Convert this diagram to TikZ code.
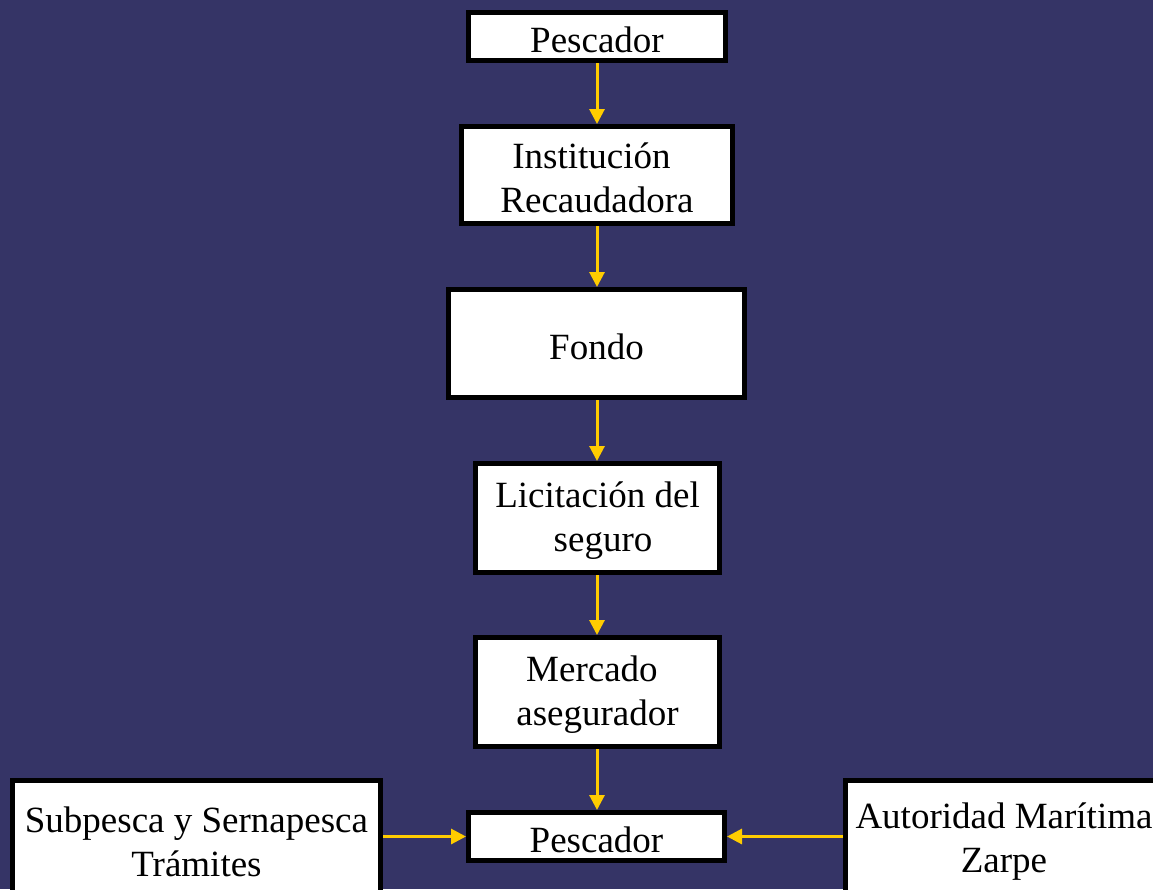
\documentclass[tikz,border=0pt]{standalone}
\usepackage{fontspec}
\setmainfont{Liberation Serif}
\usetikzlibrary{arrows.meta}
\definecolor{bgblue}{RGB}{53,52,102}
\definecolor{arrowyellow}{RGB}{255,204,0}
\newcommand{\dnline}[1]{\raisebox{-3pt}[\height][\depth]{#1}}
\begin{document}
\begin{tikzpicture}[x=1pt,y=-1pt,
  box/.style={draw=black, line width=5pt, fill=white, inner sep=0pt,
    align=center, font=\fontsize{37}{44}\selectfont},
  flow/.style={draw=arrowyellow, line width=3pt,
    -{Triangle[width=15pt,length=15pt]}}]
\fill[bgblue] (0,0) rectangle (1153,889);
\useasboundingbox (0,0) rectangle (1153,889);
\clip (0,0) rectangle (1153,889);
\node[box, minimum width=257pt, minimum height=48pt] (p1) at (597,36.5) {\dnline{Pescador}};
\node[box, minimum width=271pt, minimum height=97pt] (ir) at (597,175) {\dnline{Institución\hspace*{0.3em}}\\\dnline{Recaudadora}};
\node[box, minimum width=296pt, minimum height=108pt] (fo) at (596.5,343.5) {\dnline{Fondo}};
\node[box, minimum width=244pt, minimum height=109pt] (li) at (597.5,518) {\dnline{Licitación del}\\\dnline{\hspace*{0.3em}seguro}};
\node[box, minimum width=244pt, minimum height=109pt] (me) at (597.5,692) {\dnline{Mercado\hspace*{0.3em}}\\\dnline{asegurador}};
\node[box, minimum width=256pt, minimum height=48pt] (p2) at (596.5,836.5) {\dnline{Pescador}};
\node[box, minimum width=368pt, minimum height=117pt] (sp) at (196.5,839) {\dnline{Subpesca y Sernapesca}\\\dnline{Trámites}};
\node[box, minimum width=317pt, minimum height=117pt] (am) at (1004,839) {\dnline{Autoridad Marítima}\\\dnline{Zarpe}};
\draw[flow] (p1.south) -- (ir.north);
\draw[flow] (ir.south) -- (fo.north -| ir.south);
\draw[flow] (fo.south -| ir.south) -- (li.north -| ir.south);
\draw[flow] (li.south -| ir.south) -- (me.north -| ir.south);
\draw[flow] (me.south -| ir.south) -- (p2.north -| ir.south);
\draw[flow] (sp.east |- p2.west) -- (p2.west);
\draw[flow] (am.west |- p2.east) -- (p2.east);
\end{tikzpicture}
\end{document}
